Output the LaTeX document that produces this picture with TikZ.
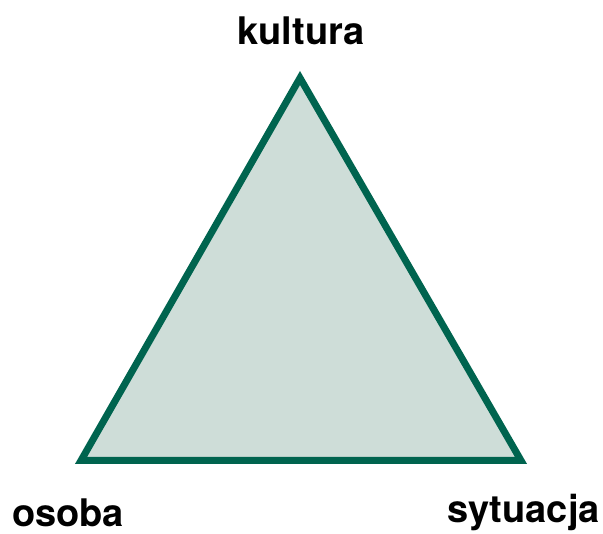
\documentclass[tikz,border=0pt]{standalone}
\usepackage{fontspec}
\setmainfont{TeX Gyre Heros}
\usetikzlibrary{positioning}
\definecolor{edgec}{HTML}{00644F}
\definecolor{fillc}{HTML}{CEDDD8}

\begin{document}
\begin{tikzpicture}[x=1pt, y=-1pt, lab/.style={font=\fontsize{38}{40}\selectfont\bfseries, inner sep=0pt}]
  \useasboundingbox (0,0) rectangle (603,534);
  \coordinate (top) at (300,78);
  \coordinate (left) at (81,460.5);
  \coordinate (right) at (521,460.5);
  \draw[draw=edgec, fill=fillc, line width=7pt, line join=miter] (top) -- (left) -- (right) -- cycle;
  \node[lab, anchor=base] (kultura) at (301,45) {kultura};
  \node[lab, anchor=base west] (osoba) at (12,527) {osoba};
  \node[lab, anchor=base east] (sytuacja) at (600,523) {sytuacja};
\end{tikzpicture}
\end{document}
